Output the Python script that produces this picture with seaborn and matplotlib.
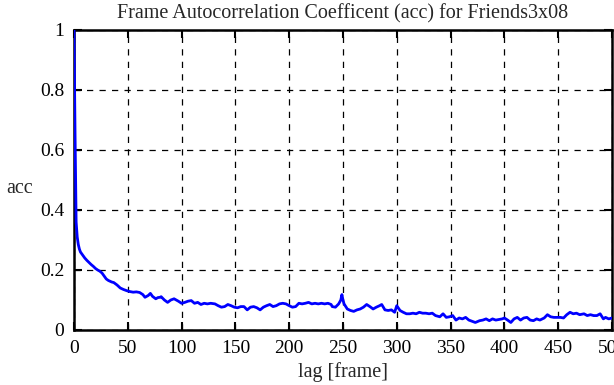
import matplotlib
matplotlib.use('Agg')
import matplotlib.pyplot as plt
import seaborn as sns
import pandas as pd

# values
lag = [0, 1, 2, 3, 4, 5, 6, 8, 10, 12, 14, 16, 18, 20, 22, 24, 26, 28, 30, 32,
       35, 37, 40, 43, 46, 49, 52, 55, 58, 61, 64, 66, 69, 71, 73, 76, 78,
       80, 81, 84, 87, 90, 93, 97, 100, 103, 106, 109, 112, 115, 118, 121, 124,
       127, 131, 134, 137, 140, 143, 146, 149, 152, 155, 158, 161, 164, 167, 170,
       173, 176, 179, 182, 185, 188, 191, 194, 197, 200, 203, 206, 209, 212, 215,
       218, 221, 224, 227, 230, 233, 236, 239, 240, 243, 246, 248, 249, 250, 251,
       254, 257, 260, 263, 266, 269, 272, 275, 278, 281, 284, 286, 289, 292, 295,
       298, 300, 303, 306, 309, 312, 315, 318, 321, 324, 327, 330, 333, 336, 340,
       343, 346, 349, 352, 355, 358, 361, 364, 367, 370, 373, 377, 380, 383, 386,
       389, 392, 395, 398, 400, 403, 406, 409, 412, 415, 418, 421, 424, 427, 430,
       433, 437, 440, 443, 446, 449, 452, 455, 458, 461, 464, 467, 470, 474, 477,
       480, 483, 486, 489, 492, 494, 497, 500]
acc = [1.0, 0.65, 0.36, 0.31, 0.285, 0.27, 0.26, 0.25, 0.24, 0.232, 0.225, 0.218,
       0.212, 0.205, 0.2, 0.196, 0.19, 0.18, 0.17, 0.165,
       0.16, 0.158, 0.15, 0.14, 0.135, 0.131, 0.128, 0.126, 0.127, 0.125, 0.118,
       0.109, 0.115, 0.122, 0.112, 0.104, 0.108,
       0.109, 0.111, 0.100, 0.092, 0.100, 0.104, 0.096, 0.089, 0.092, 0.096,
       0.098, 0.089, 0.092, 0.085, 0.089, 0.087,
       0.089, 0.087, 0.081, 0.076, 0.078, 0.085, 0.081, 0.076, 0.074, 0.078,
       0.078, 0.067, 0.076, 0.078, 0.074,
       0.067, 0.076, 0.081, 0.085, 0.078, 0.081, 0.087, 0.089, 0.087, 0.081,
       0.076, 0.078, 0.089, 0.087, 0.089,
       0.092, 0.087, 0.089, 0.087, 0.089, 0.087, 0.089, 0.085, 0.078, 0.076,
       0.087, 0.100, 0.118, 0.100, 0.087,
       0.070, 0.065, 0.062, 0.067, 0.070, 0.076, 0.085, 0.078, 0.070, 0.076,
       0.081, 0.085, 0.067, 0.065, 0.067,
       0.059, 0.081, 0.065, 0.059, 0.054, 0.054, 0.056, 0.054, 0.059, 0.056,
       0.056, 0.054, 0.056, 0.048, 0.044,
       0.054, 0.042, 0.044, 0.048, 0.033, 0.040, 0.037, 0.042, 0.033, 0.029,
       0.025, 0.031, 0.033, 0.037, 0.031,
       0.037, 0.033, 0.035, 0.037, 0.040, 0.033, 0.025, 0.037, 0.042, 0.033,
       0.040, 0.042, 0.033, 0.031, 0.037,
       0.033, 0.040, 0.051, 0.044, 0.042, 0.042, 0.042, 0.040, 0.051, 0.059,
       0.054, 0.056, 0.051, 0.054, 0.048,
       0.051, 0.048, 0.048, 0.054, 0.037, 0.042, 0.037, 0.040]

xticks = [0, 50, 100, 150, 200, 250, 300, 350, 400, 450, 500]
yticks = [0, 0.2, 0.4, 0.6, 0.8, 1]
ytick_labels = ['0', '0.2', '0.4', '0.6', '0.8', '1']

df = pd.DataFrame({'lag': lag, 'acc': acc})

sns.set_style('ticks')
plt.rcParams['font.family'] = ['Liberation Serif', 'DejaVu Serif']

fig = plt.figure(figsize=(6.14, 3.85), dpi=100)
ax = fig.add_axes([0.1205, 0.1429, 0.8762, 0.7792])

sns.lineplot(data=df, x='lag', y='acc', color='#0000ff', linewidth=2.0,
             zorder=3, ax=ax)

ax.set_xlim(0, 500)
ax.set_ylim(0, 1)
ax.set_xticks(xticks)
ax.set_yticks(yticks)
ax.set_yticklabels(ytick_labels)
ax.grid(True, color='black', linestyle=(0, (5, 5)), linewidth=0.9)
ax.tick_params(direction='in', length=6, width=1.5, top=True, right=True,
               labelsize=14, colors='black')
ax.tick_params(axis='y', pad=7)
ax.tick_params(axis='x', pad=7)
for s in ax.spines.values():
    s.set_linewidth(1.8)
    s.set_color('black')

ax.set_title('Frame Autocorrelation Coefficent (acc) for Friends3x08',
             fontsize=14.5, pad=8)
ax.set_xlabel('lag [frame]', fontsize=14.5, labelpad=4)
ax.set_ylabel('acc', fontsize=14.5, rotation=0, ha='center', va='center')
ax.yaxis.set_label_coords(-0.102, 0.47)

fig.savefig('out.png', dpi=100)
